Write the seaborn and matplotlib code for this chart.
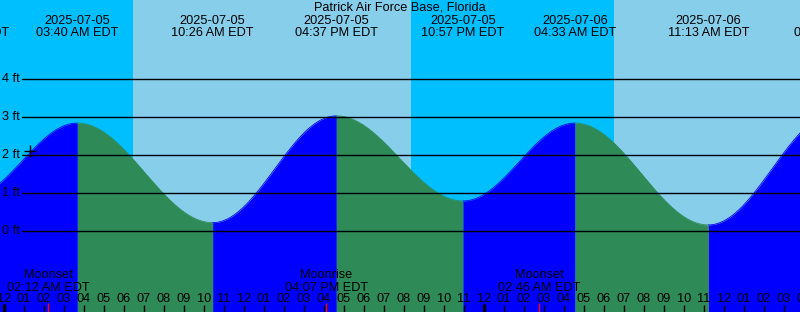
import numpy as np
import pandas as pd
import matplotlib
matplotlib.use("Agg")
import matplotlib.pyplot as plt
import seaborn as sns

# ---- data (hours since 2025-07-05 00:00 EDT) ----
tide_hours = [-1.83, 3.667, 10.433, 16.617, 22.95, 28.55, 35.217, 41.6]
tide_feet = [0.86, 2.84, 0.22, 3.03, 0.79, 2.84, 0.16, 3.12]
tide_dates = ["2025-07-04", "2025-07-05", "2025-07-05", "2025-07-05",
              "2025-07-05", "2025-07-06", "2025-07-06", "2025-07-06"]
tide_times = ["10:10 PM EDT", "03:40 AM EDT", "10:26 AM EDT", "04:37 PM EDT",
              "10:57 PM EDT", "04:33 AM EDT", "11:13 AM EDT", "05:36 PM EDT"]

# night periods (start, end) in hours
night_start = [-5.0, 20.35]
night_end = [6.47, 30.5]

moon_hours = [2.2, 16.117, 26.767]
moon_events = ["Moonset", "Moonrise", "Moonset"]
moon_times = ["02:12 AM EDT", "04:07 PM EDT", "02:46 AM EDT"]

ft_levels = [0, 1, 2, 3, 4]
ft_labels = ["0 ft", "1 ft", "2 ft", "3 ft", "4 ft"]

hour_ticks = list(range(0, 41))
hour_labels = ["%02d" % (12 if h % 12 == 0 else h % 12) for h in hour_ticks]

now_hour, now_feet = 1.3, 2.11

# ---- style ----
sns.set_style("white")
plt.rcParams["font.family"] = ["Liberation Sans", "DejaVu Sans"]
FS = 9.2
W, H = 800, 312

fig = plt.figure(figsize=(W / 100, H / 100), dpi=100)
ax = fig.add_axes([0, 0, 1, 1])
ax.set_axis_off()
x0, x1 = -0.2, 39.8
y0, y1 = (231 - 312) / 38, 231 / 38
ax.set_xlim(x0, x1)
ax.set_ylim(y0, y1)

DAY = "#87CEEB"
NIGHT = "#00BFFF"
RISE = "#0000FF"
FALL = "#2E8B57"

ax.axvspan(x0 - 5, x1 + 5, color=DAY, lw=0, zorder=0)
for s, e in zip(night_start, night_end):
    ax.axvspan(s, e, color=NIGHT, lw=0, zorder=0.5)

# tide curve segments between extremes (half-cosine, as tide tables draw)
rows = []
for i in range(len(tide_hours) - 1):
    ta, tb = tide_hours[i], tide_hours[i + 1]
    ha, hb = tide_feet[i], tide_feet[i + 1]
    t = np.linspace(ta, tb, 200)
    f = (t - ta) / (tb - ta)
    hgt = ha + (hb - ha) * (1 - np.cos(np.pi * f)) / 2
    phase = "rising" if hb > ha else "falling"
    rows.append(pd.DataFrame({"hour": t, "ft": hgt, "seg": i, "phase": phase}))
df = pd.concat(rows, ignore_index=True)

for seg, d in df.groupby("seg"):
    col = RISE if d["phase"].iloc[0] == "rising" else FALL
    ax.fill_between(d["hour"], y0 - 1, d["ft"], color=col, lw=0, zorder=1)
    sns.lineplot(data=d, x="hour", y="ft", color=col, lw=0.6, ax=ax,
                 zorder=1.1, legend=False, sort=False)

# gridlines and ft labels
for lv, lb in zip(ft_levels, ft_labels):
    ax.axhline(lv, xmin=22 / W, xmax=1, color="black", lw=1, zorder=2)
    ax.text(2 / W, lv, lb, transform=ax.get_yaxis_transform(), ha="left",
            va="center", fontsize=FS, color="black", zorder=3)

ax.plot([now_hour], [now_feet], marker="+", color="black", ms=9, mew=1, zorder=3)

xt = ax.get_xaxis_transform()


def yf(px):
    return 1 - px / H


# title
fig.text(0.5, yf(11), "Patrick Air Force Base, Florida", ha="center",
         va="baseline", fontsize=FS, color="black")

# tide labels
for h, d, t in zip(tide_hours, tide_dates, tide_times):
    ax.text(h, yf(24.3), d, transform=xt, ha="center", va="baseline",
            fontsize=FS, color="black", zorder=3, clip_on=False)
    ax.text(h, yf(36), t, transform=xt, ha="center", va="baseline",
            fontsize=FS, color="black", zorder=3, clip_on=False)

# hour ticks and labels
for h, lb in zip(hour_ticks, hour_labels):
    if h % 24 == 0:
        ax.vlines(h, yf(312), yf(303.5), transform=xt, color="black", lw=2.3, zorder=3)
    else:
        ax.vlines(h, yf(312), yf(305), transform=xt, color="black", lw=1, zorder=3)
    ax.text(h, yf(302.3), lb, transform=xt, ha="center", va="baseline",
            fontsize=FS, color="black", zorder=3)

# moon events
for h, ev, t in zip(moon_hours, moon_events, moon_times):
    ax.vlines(h, yf(312), yf(303), transform=xt, color="red", lw=1, zorder=3)
    ax.text(h, yf(278.3), ev, transform=xt, ha="center", va="baseline",
            fontsize=FS, color="black", zorder=3)
    ax.text(h, yf(290.7), t, transform=xt, ha="center", va="baseline",
            fontsize=FS, color="black", zorder=3)

fig.savefig("out.png", dpi=100)
